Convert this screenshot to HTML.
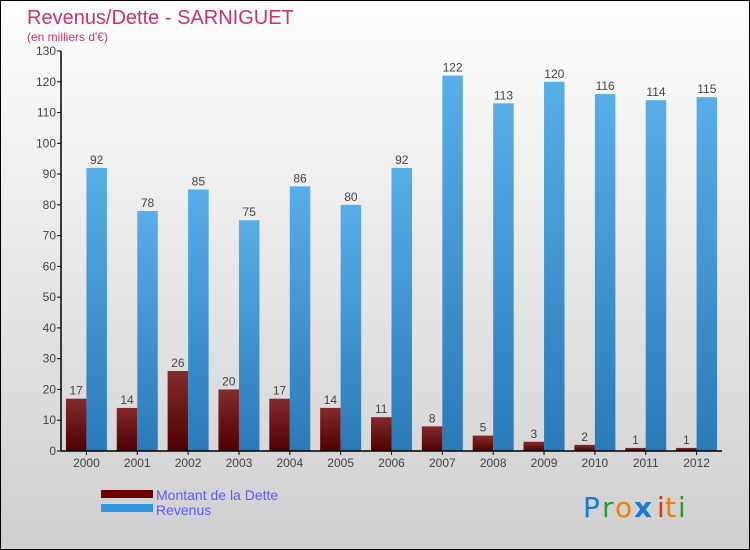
<!DOCTYPE html>
<html><head><meta charset="utf-8"><style>
body{margin:0}
#c{width:748px;height:548px;border:1px solid #000;background:linear-gradient(#fefefe,#f0f0f0 30%,#cfcfcf);position:relative;overflow:hidden;font-family:"Liberation Sans",sans-serif}
</style></head><body>
<div id="c">
<svg id="s" width="748" height="548" style="position:absolute;left:0;top:0">
<defs>
<linearGradient id="gd" x1="0" y1="0" x2="0" y2="1"><stop offset="0" stop-color="#852a2c"/><stop offset="1" stop-color="#4e0000"/></linearGradient>
<linearGradient id="gr" x1="0" y1="0" x2="0" y2="1"><stop offset="0" stop-color="#58aee8"/><stop offset="1" stop-color="#2a7ab8"/></linearGradient>
</defs>
<text x="26" y="23" font-size="20" fill="#c8336a">Revenus/Dette - SARNIGUET</text>
<text x="26" y="40" font-size="12" fill="#c8336a">(en milliers d'€)</text>
<g id="g"></g>
<rect x="100" y="489" width="52" height="8" fill="#6a0000"/>
<rect x="100" y="503" width="52" height="8" fill="#2e96de"/>
<text x="155" y="499" font-size="14" fill="#5a5aff">Montant de la Dette</text>
<text x="155" y="514" font-size="14" fill="#5a5aff">Revenus</text>
<g font-size="28" font-family="'DejaVu Sans',sans-serif">
<text x="582" y="516" fill="#1a7ad0">P</text><text x="601" y="516" fill="#2a9a3a">r</text><text x="614" y="516" fill="#f08000">o</text><text x="633" y="516" fill="#1a7ad0" font-weight="bold">x</text><text x="656" y="516" fill="#e03010">i</text><text x="664" y="516" fill="#f08000">t</text><text x="677" y="516" fill="#2a9a3a">i</text>
</g>
</svg>
</div>
<script>
const years=["2000","2001","2002","2003","2004","2005","2006","2007","2008","2009","2010","2011","2012"];
const debt=[17,14,26,20,17,14,11,8,5,3,2,1,1];
const revenue=[92,78,85,75,86,80,92,122,113,120,116,114,115];
const yTicks=[0,10,20,30,40,50,60,70,80,90,100,110,120,130];
const NS="http://www.w3.org/2000/svg";
const g=document.getElementById('g');
const X0=60,X1=721,Y0=450,YT=50,YMAX=130,GW=(X1-X0)/13,BW=20.5;
function y(v){return Y0-v*(Y0-YT)/YMAX;}
function cx(i){return X0+GW*(i+0.5);}
function el(t,a){const e=document.createElementNS(NS,t);for(const k in a)e.setAttribute(k,a[k]);g.appendChild(e);return e;}
yTicks.forEach(v=>{
 const l=el('line',{x1:X0-4,x2:X0,y1:y(v),y2:y(v),stroke:'#000'});
 
 
 const t=el('text',{x:X0-5,y:y(v)+4,'font-size':12,fill:'#444','text-anchor':'end'});
 t.textContent=v;
 
 
});
years.forEach((yr,i)=>{
 const c=cx(i);
 const d=el('rect',{x:c-BW,y:y(debt[i]),width:BW,height:Y0-y(debt[i]),fill:'url(#gd)'});
 
 
 const r=el('rect',{x:c,y:y(revenue[i]),width:BW,height:Y0-y(revenue[i]),fill:'url(#gr)'});
 
 
 const dl=el('text',{x:c-BW/2,y:y(debt[i])-4,'font-size':12,fill:'#444','text-anchor':'middle'});
 dl.textContent=debt[i];
 
 
 const rl=el('text',{x:c+BW/2,y:y(revenue[i])-4,'font-size':12,fill:'#444','text-anchor':'middle'});
 rl.textContent=revenue[i];
 
 
 const tk=el('line',{x1:c,x2:c,y1:Y0,y2:Y0+4,stroke:'#000'});
 
 
 const xl=el('text',{x:c,y:Y0+16,'font-size':12,fill:'#444','text-anchor':'middle'});
 xl.textContent=yr;
 
 
});
const ya=el('line',{x1:X0,x2:X0,y1:YT,y2:Y0,stroke:'#000','stroke-width':1.5});


const xa=el('line',{x1:X0,x2:X1,y1:Y0,y2:Y0,stroke:'#000','stroke-width':1.5});


</script>
</body></html>
